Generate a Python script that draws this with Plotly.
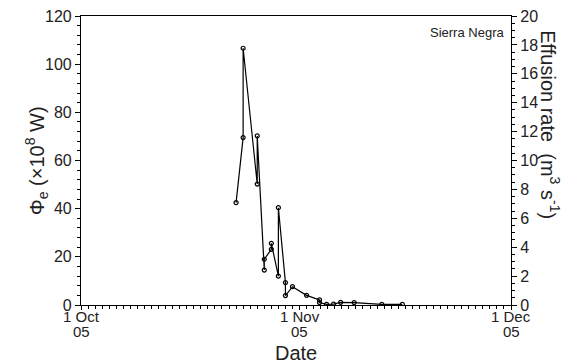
import plotly.graph_objects as go

dates = ["2005-10-23", "2005-10-24", "2005-10-24", "2005-10-26", "2005-10-26",
         "2005-10-27", "2005-10-27", "2005-10-28", "2005-10-28", "2005-10-29",
         "2005-10-29", "2005-10-30", "2005-10-30", "2005-10-31", "2005-11-02",
         "2005-11-03 20:00", "2005-11-03 20:00", "2005-11-04 20:00", "2005-11-05 20:00",
         "2005-11-06 20:00", "2005-11-08 18:00", "2005-11-12 16:00", "2005-11-15 14:00"]
phi_e = [42.5, 69.5, 106.6, 50.2, 70.2,
         14.5, 19.0, 23.1, 25.6, 12.0,
         40.4, 9.3, 3.9, 7.6, 4.0,
         2.1, 1.0, 0.3, 0.4,
         1.1, 1.0, 0.3, 0.3]

xtick_vals = ["2005-10-01", "2005-11-01", "2005-12-01"]
xtick_day = ["1 Oct", "1 Nov", "1 Dec"]
xtick_year = ["05", "05", "05"]

FONT = "Liberation Sans, Arial, sans-serif"

fig = go.Figure()
fig.add_trace(go.Scatter(
    x=dates, y=phi_e, mode="lines+markers",
    line=dict(color="black", width=1.2),
    marker=dict(symbol="circle-open", size=4, color="black", line=dict(width=1.2)),
    showlegend=False))
# right-axis reference trace (empty)
fig.add_trace(go.Scatter(x=[None], y=[None], yaxis="y2", showlegend=False, hoverinfo="skip"))

annotations = [
    dict(text="Φ<sub>e</sub> (×10<sup>8</sup> W)", xref="paper", yref="paper",
         x=-0.103, y=0.5, xanchor="center", yanchor="middle", textangle=-90,
         showarrow=False, font=dict(size=20)),
    dict(text="Effusion rate  (m<sup>3</sup> s<sup>-1</sup>)", xref="paper", yref="paper",
         x=1.091, y=0.625, xanchor="center", yanchor="middle", textangle=90,
         showarrow=False, font=dict(size=20)),
    dict(text="Sierra Negra", xref="paper", yref="paper", x=0.988, y=0.975,
         xanchor="right", yanchor="top", showarrow=False, font=dict(size=13)),
    dict(text="Date", xref="paper", yref="paper", x=0.5, y=-0.166,
         xanchor="center", yanchor="middle", showarrow=False, font=dict(size=20)),
]
for v, d, yr in zip(xtick_vals, xtick_day, xtick_year):
    annotations.append(dict(text=d, xref="x", yref="paper", x=v, y=-0.039,
                            xanchor="center", yanchor="middle", showarrow=False,
                            font=dict(size=15)))
    annotations.append(dict(text=yr, xref="x", yref="paper", x=v, y=-0.091,
                            xanchor="center", yanchor="middle", showarrow=False,
                            font=dict(size=15)))

fig.update_layout(
    width=562, height=363,
    margin=dict(l=80.5, r=51, t=16, b=58),
    paper_bgcolor="white", plot_bgcolor="white",
    font=dict(family=FONT, color="#222", size=16),
    xaxis=dict(
        range=["2005-10-01", "2005-12-01"], showgrid=False, zeroline=False,
        showline=True, linecolor="black", linewidth=1.2, mirror=True, automargin=False,
        tickvals=xtick_vals, showticklabels=False, ticks="outside", ticklen=4,
        tickcolor="black",
        minor=dict(dtick=86400000, tick0="2005-10-01", ticks="outside", ticklen=3, tickcolor="black"),
    ),
    yaxis=dict(
        range=[0, 120], dtick=20, showgrid=False, zeroline=False, automargin=False,
        showline=True, linecolor="black", linewidth=1.2,
        ticks="outside", ticklen=5, tickcolor="black", tickfont=dict(size=16),
        minor=dict(dtick=4, ticks="outside", ticklen=3, tickcolor="black"),
    ),
    yaxis2=dict(
        range=[0, 20], dtick=2, overlaying="y", side="right", showgrid=False,
        zeroline=False, showline=True, linecolor="black", linewidth=1.2, automargin=False,
        ticks="outside", ticklen=5, tickcolor="black", tickfont=dict(size=16),
        minor=dict(dtick=0.5, ticks="outside", ticklen=3, tickcolor="black"),
    ),
    annotations=annotations,
)

fig.write_html("out.html")
